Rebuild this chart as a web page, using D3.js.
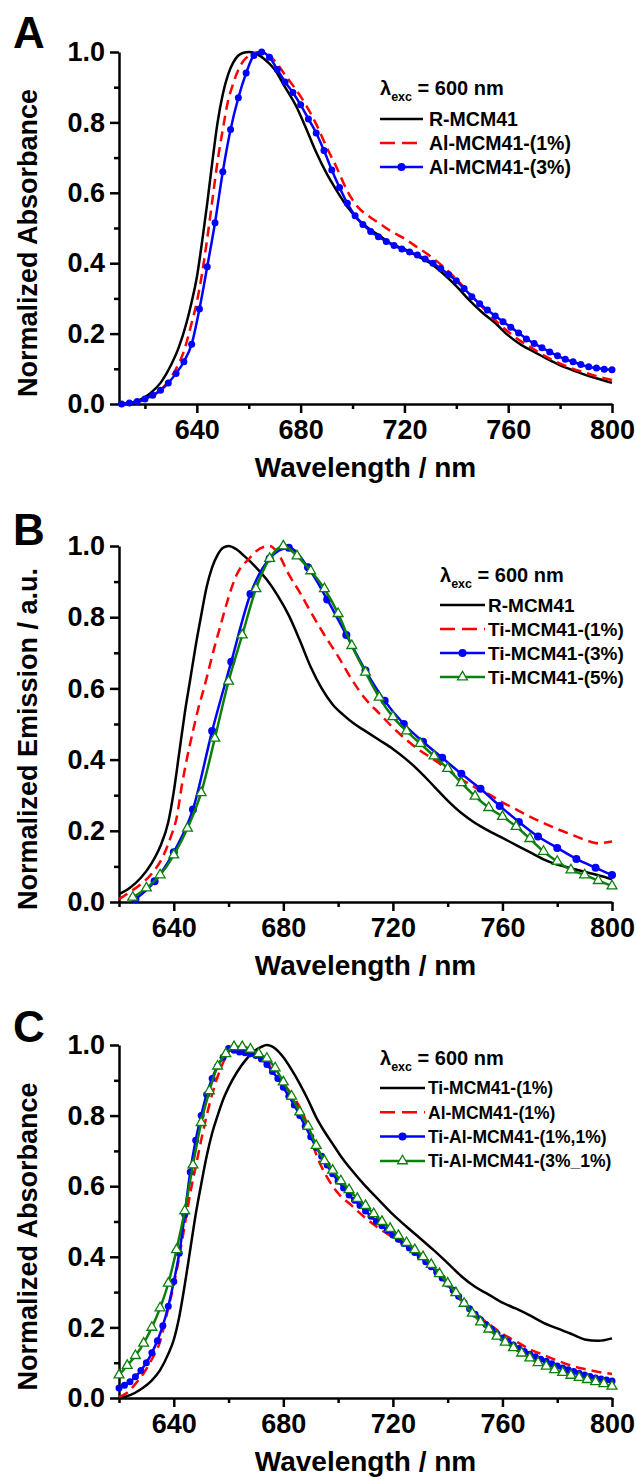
<!DOCTYPE html>
<meta charset="utf-8">
<style>
  body { margin: 0; background: #fff; }
  svg text { font-family: Arial, "Liberation Sans", sans-serif; font-weight: bold; }
</style>
<body>
<script src="https://d3js.org/d3.v7.min.js"></script>
<script>
// ---- axis ticks ----
const xMajor = [640, 680, 720, 760, 800];
const xMinor = [620, 660, 700, 740, 780];
const yMajor = [0, 0.2, 0.4, 0.6, 0.8, 1.0];
const yMinor = [0.1, 0.3, 0.5, 0.7, 0.9];

// ---- legend labels ----
const labelsA = ["R-MCM41", "Al-MCM41-(1%)", "Al-MCM41-(3%)"];
const labelsB = ["R-MCM41", "Ti-MCM41-(1%)", "Ti-MCM41-(3%)", "Ti-MCM41-(5%)"];
const labelsC = ["Ti-MCM41-(1%)", "Al-MCM41-(1%)", "Ti-Al-MCM41-(1%,1%)", "Ti-Al-MCM41-(3%_1%)"];

// ---- panel A: [wavelength nm, normalized absorbance] ----
const aR = [[610,0.0],[614,0.003],[618,0.012],[622,0.03],[626,0.06],[630,0.11],[633,0.16],[636,0.23],[638,0.29],[640,0.36],[642,0.46],[644,0.57],[646,0.69],[648,0.80],[650,0.88],[652,0.935],[654,0.97],[656,0.99],[658,0.998],[660,1.0],[663,0.995],[666,0.98],[670,0.95],[674,0.90],[678,0.85],[682,0.785],[686,0.715],[690,0.655],[694,0.605],[698,0.56],[702,0.525],[706,0.50],[710,0.48],[715,0.455],[720,0.44],[725,0.42],[730,0.40],[735,0.37],[740,0.335],[745,0.295],[750,0.26],[755,0.23],[760,0.195],[765,0.168],[770,0.148],[775,0.128],[780,0.11],[785,0.096],[790,0.082],[795,0.071],[800,0.06]];
const aAl1 = [[610,0.0],[615,0.002],[620,0.012],[624,0.028],[628,0.055],[632,0.10],[635,0.15],[638,0.23],[640,0.29],[642,0.37],[644,0.47],[646,0.58],[648,0.69],[650,0.78],[652,0.86],[654,0.91],[656,0.95],[658,0.975],[661,0.993],[664,1.0],[667,0.995],[670,0.975],[674,0.935],[678,0.895],[682,0.85],[686,0.795],[690,0.73],[694,0.67],[698,0.605],[702,0.56],[706,0.535],[710,0.515],[715,0.49],[720,0.47],[725,0.445],[730,0.42],[735,0.39],[740,0.355],[745,0.315],[750,0.275],[755,0.238],[760,0.205],[765,0.178],[770,0.155],[775,0.133],[780,0.115],[785,0.10],[790,0.088],[795,0.077],[800,0.068]];
const aAl3 = [[611,0.0],[614,0.003],[617,0.007],[620,0.014],[623,0.025],[626,0.039],[629,0.06],[632,0.087],[635,0.12],[638,0.17],[641,0.27],[644,0.39],[647,0.515],[650,0.66],[653,0.78],[656,0.87],[659,0.94],[662,0.99],[665,1.0],[668,0.985],[671,0.95],[674,0.915],[677,0.885],[680,0.85],[683,0.81],[686,0.77],[689,0.72],[692,0.665],[695,0.615],[698,0.57],[701,0.535],[704,0.51],[707,0.49],[710,0.475],[713,0.462],[716,0.45],[719,0.44],[722,0.432],[725,0.423],[728,0.412],[731,0.40],[734,0.385],[737,0.368],[740,0.35],[743,0.328],[746,0.305],[749,0.285],[752,0.267],[755,0.25],[758,0.234],[761,0.218],[764,0.202],[767,0.185],[770,0.172],[773,0.16],[776,0.148],[779,0.137],[782,0.127],[785,0.12],[788,0.112],[791,0.106],[794,0.102],[797,0.099],[800,0.097]];

// ---- panel B: [wavelength nm, normalized emission] ----
const bR = [[620,0.022],[624,0.04],[628,0.068],[632,0.11],[635,0.155],[638,0.225],[640,0.31],[642,0.42],[644,0.53],[646,0.625],[648,0.72],[650,0.805],[652,0.885],[654,0.94],[656,0.975],[658,0.995],[660,1.0],[663,0.99],[666,0.97],[670,0.94],[674,0.905],[678,0.86],[682,0.805],[686,0.735],[690,0.66],[694,0.6],[698,0.555],[702,0.525],[706,0.5],[710,0.48],[715,0.455],[720,0.43],[725,0.40],[730,0.365],[735,0.325],[740,0.285],[745,0.25],[750,0.222],[755,0.2],[760,0.18],[765,0.16],[770,0.14],[775,0.12],[780,0.105],[785,0.095],[790,0.085],[795,0.075],[800,0.064]];
const bTi1 = [[620,0.008],[624,0.028],[628,0.05],[632,0.08],[636,0.127],[639,0.185],[641,0.235],[643,0.33],[645,0.41],[647,0.48],[649,0.545],[651,0.6],[653,0.66],[655,0.72],[657,0.775],[659,0.83],[661,0.88],[663,0.92],[665,0.945],[667,0.96],[670,0.985],[673,0.998],[675,1.0],[678,0.98],[682,0.92],[686,0.87],[690,0.815],[695,0.75],[700,0.69],[705,0.625],[710,0.57],[715,0.53],[720,0.49],[725,0.455],[730,0.425],[735,0.40],[740,0.372],[745,0.345],[750,0.322],[755,0.303],[760,0.28],[765,0.26],[770,0.24],[775,0.222],[780,0.205],[785,0.19],[790,0.175],[795,0.165],[800,0.17]];
const bTi3 = [[626,0.008],[633,0.058],[640,0.14],[647,0.26],[654,0.48],[661,0.675],[668,0.865],[675,0.965],[682,0.995],[689,0.94],[696,0.85],[703,0.75],[710,0.65],[717,0.565],[724,0.50],[731,0.45],[738,0.405],[745,0.36],[752,0.318],[759,0.27],[766,0.225],[773,0.184],[780,0.152],[787,0.121],[794,0.096],[800,0.076]];
const bTi5 = [[625,0.013],[630,0.039],[635,0.076],[640,0.132],[645,0.207],[650,0.307],[655,0.46],[660,0.62],[665,0.75],[670,0.88],[675,0.965],[680,1.0],[685,0.972],[690,0.93],[695,0.88],[700,0.81],[705,0.72],[710,0.645],[715,0.575],[720,0.52],[725,0.48],[730,0.445],[735,0.41],[740,0.375],[745,0.335],[750,0.297],[755,0.265],[760,0.24],[765,0.212],[770,0.178],[775,0.142],[780,0.114],[785,0.09],[790,0.076],[795,0.06],[800,0.045]];

// ---- panel C: [wavelength nm, normalized absorbance] ----
const cTi1 = [[620,0.0],[624,0.008],[628,0.025],[632,0.05],[635,0.079],[638,0.125],[640,0.165],[642,0.23],[644,0.32],[646,0.42],[648,0.52],[650,0.605],[652,0.685],[654,0.75],[656,0.8],[658,0.845],[660,0.88],[663,0.922],[666,0.955],[669,0.98],[672,0.995],[674,1.0],[677,0.99],[680,0.965],[683,0.93],[686,0.89],[689,0.845],[692,0.795],[695,0.755],[698,0.72],[701,0.685],[705,0.645],[710,0.6],[715,0.56],[720,0.52],[725,0.485],[730,0.452],[735,0.418],[740,0.382],[745,0.345],[750,0.315],[755,0.293],[760,0.27],[765,0.253],[770,0.234],[775,0.213],[780,0.197],[785,0.182],[790,0.166],[795,0.162],[800,0.169]];
const cAl1 = [[620,0.003],[623,0.015],[626,0.04],[629,0.07],[632,0.11],[635,0.16],[638,0.255],[640,0.32],[642,0.4],[644,0.49],[646,0.58],[648,0.655],[650,0.73],[652,0.8],[654,0.86],[656,0.91],[658,0.95],[660,0.98],[662,0.997],[664,1.0],[667,0.99],[670,0.975],[673,0.96],[676,0.93],[680,0.89],[684,0.85],[688,0.79],[692,0.69],[696,0.625],[700,0.58],[705,0.545],[710,0.51],[715,0.48],[720,0.455],[725,0.43],[730,0.40],[735,0.365],[740,0.32],[745,0.275],[750,0.24],[755,0.21],[760,0.182],[765,0.16],[770,0.138],[775,0.122],[780,0.106],[785,0.092],[790,0.082],[795,0.074],[800,0.068]];
const cTiAl11 = [[620,0.028],[622,0.036],[624,0.046],[626,0.06],[628,0.078],[630,0.1],[632,0.128],[634,0.162],[636,0.205],[638,0.26],[640,0.33],[642,0.41],[644,0.52],[646,0.64],[648,0.73],[650,0.8],[652,0.86],[654,0.905],[656,0.94],[658,0.965],[660,0.99],[662,0.985],[664,0.98],[666,0.978],[668,0.975],[670,0.97],[672,0.96],[674,0.945],[676,0.925],[678,0.905],[680,0.88],[682,0.855],[684,0.83],[686,0.8],[688,0.77],[690,0.74],[692,0.71],[694,0.685],[696,0.66],[698,0.635],[700,0.615],[702,0.595],[704,0.575],[706,0.56],[708,0.545],[710,0.53],[712,0.515],[714,0.5],[716,0.488],[718,0.475],[720,0.462],[722,0.45],[724,0.438],[726,0.425],[728,0.412],[730,0.4],[732,0.386],[734,0.372],[736,0.356],[738,0.34],[740,0.323],[742,0.305],[744,0.288],[746,0.27],[748,0.253],[750,0.237],[752,0.222],[754,0.208],[756,0.195],[758,0.182],[760,0.17],[762,0.16],[764,0.15],[766,0.14],[768,0.132],[770,0.124],[772,0.117],[774,0.11],[776,0.104],[778,0.097],[780,0.091],[782,0.085],[784,0.08],[786,0.075],[788,0.07],[790,0.065],[792,0.061],[794,0.057],[796,0.054],[798,0.051],[800,0.048]];
const cTiAl31 = [[620,0.065],[623,0.092],[626,0.12],[629,0.155],[632,0.2],[635,0.255],[638,0.325],[641,0.42],[644,0.53],[647,0.66],[650,0.78],[653,0.87],[656,0.94],[659,0.975],[662,0.995],[665,0.995],[668,0.988],[671,0.975],[674,0.962],[677,0.935],[680,0.895],[683,0.855],[686,0.81],[689,0.77],[692,0.715],[695,0.672],[698,0.645],[701,0.615],[704,0.59],[707,0.565],[710,0.545],[713,0.522],[716,0.5],[719,0.48],[722,0.46],[725,0.44],[728,0.42],[731,0.4],[734,0.378],[737,0.352],[740,0.325],[743,0.298],[746,0.268],[749,0.24],[752,0.215],[755,0.195],[758,0.175],[761,0.158],[764,0.142],[767,0.127],[770,0.113],[773,0.1],[776,0.09],[779,0.08],[782,0.072],[785,0.064],[788,0.058],[791,0.052],[794,0.046],[797,0.04],[800,0.033]];

// ---- layout ----
const width = 636, height = 1477;
const xLeft = 119, xRight = 612;

const svg = d3.select("body").append("svg")
    .attr("width", width)
    .attr("height", height)
    .style("background", "#fff");

const styles = {
  black: { color: "#000000", dash: null },
  red:   { color: "#ff0000", dash: "10,6", legendDash: "15,7" },
  blue:  { color: "#0000ff", dash: null, marker: "dot" },
  green: { color: "#0a800a", dash: null, marker: "tri" }
};

const panels = [
  { letter: "A", letterY: 48, top: 52, bottom: 404, domain: [610, 800],
    yTitle: "Normalized Absorbance",
    legend: { x: 380, lambdaY: 95, rowY: 119, gap: 24, len: 43, textX: 429, font: 19.5 },
    series: [[aR, "black", labelsA[0]], [aAl1, "red", labelsA[1]], [aAl3, "blue", labelsA[2]]],
    dotR: 3.5 },
  { letter: "B", letterY: 545, top: 546, bottom: 902, domain: [620, 800],
    yTitle: "Normalized Emission / a.u.",
    legend: { x: 440, lambdaY: 582, rowY: 605, gap: 24, len: 45, textX: 488, font: 19 },
    series: [[bR, "black", labelsB[0]], [bTi1, "red", labelsB[1]], [bTi3, "blue", labelsB[2]], [bTi5, "green", labelsB[3]]],
    dotR: 4 },
  { letter: "C", letterY: 1042, top: 1045, bottom: 1398, domain: [620, 800],
    yTitle: "Normalized Absorbance",
    legend: { x: 380, lambdaY: 1065, rowY: 1088, gap: 24.3, len: 45, textX: 428, font: 17.5 },
    series: [[cTi1, "black", labelsC[0]], [cAl1, "red", labelsC[1]], [cTiAl11, "blue", labelsC[2]], [cTiAl31, "green", labelsC[3]]],
    dotR: 3.5 }
];

const tri = d3.symbol().type(d3.symbolTriangle).size(42);

function drawMarker(g, kind, cx, cy, r) {
  if (kind === "dot") {
    g.append("circle").attr("cx", cx).attr("cy", cy).attr("r", r).attr("fill", styles.blue.color);
  } else if (kind === "tri") {
    g.append("path").attr("d", tri).attr("transform", `translate(${cx},${cy})`)
      .attr("fill", "#fff").attr("stroke", styles.green.color).attr("stroke-width", 1.3);
  }
}

function styleAxis(sel, fs) {
  sel.selectAll("path, line").attr("stroke", "#000").attr("stroke-width", 2.5);
  sel.selectAll("text").attr("font-size", fs).attr("fill", "#000")
    .attr("font-family", 'Arial, "Liberation Sans", sans-serif').attr("font-weight", "bold");
}

panels.forEach(p => {
  const x = d3.scaleLinear().domain(p.domain).range([xLeft, xRight]);
  const y = d3.scaleLinear().domain([0, 1]).range([p.bottom, p.top]);
  const g = svg.append("g");

  // panel letter
  g.append("text").attr("x", 13).attr("y", p.letterY).attr("font-size", 44).text(p.letter);

  // axes: minor ticks first, then major with labels
  const xMin = g.append("g").attr("transform", `translate(0,${p.bottom})`)
    .call(d3.axisBottom(x).tickValues(xMinor).tickSize(5).tickSizeOuter(0).tickFormat(""));
  xMin.select(".domain").remove();
  styleAxis(xMin, 27);
  const xAx = g.append("g").attr("transform", `translate(0,${p.bottom})`)
    .call(d3.axisBottom(x).tickValues(xMajor).tickSize(9).tickSizeOuter(0).tickPadding(7));
  styleAxis(xAx, 27);

  const yMin = g.append("g").attr("transform", `translate(${xLeft},0)`)
    .call(d3.axisLeft(y).tickValues(yMinor).tickSize(5).tickSizeOuter(0).tickFormat(""));
  yMin.select(".domain").remove();
  styleAxis(yMin, 27);
  const yAx = g.append("g").attr("transform", `translate(${xLeft},0)`)
    .call(d3.axisLeft(y).tickValues(yMajor).tickSize(9).tickSizeOuter(0).tickPadding(5)
      .tickFormat(d3.format(".1f")));
  styleAxis(yAx, 27);

  // axis titles
  g.append("text").attr("x", (xLeft + xRight) / 2).attr("y", p.bottom + 73)
    .attr("text-anchor", "middle").attr("font-size", 28).text("Wavelength / nm");
  g.append("text")
    .attr("transform", `translate(37,${(p.top + p.bottom) / 2 + 15}) rotate(-90)`)
    .attr("text-anchor", "middle").attr("font-size", 27).text(p.yTitle);

  // curves
  const line = d3.line().x(d => x(d[0])).y(d => y(d[1])).curve(d3.curveMonotoneX);
  p.series.forEach(([data, kind]) => {
    const st = styles[kind];
    g.append("path").datum(data).attr("d", line)
      .attr("fill", "none").attr("stroke", st.color).attr("stroke-width", 2.5)
      .attr("stroke-linejoin", "round")
      .attr("stroke-dasharray", st.dash);
    if (st.marker) {
      const mg = g.append("g");
      data.forEach(d => drawMarker(mg, st.marker, x(d[0]), y(d[1]), p.dotR));
    }
  });

  // legend
  const L = p.legend;
  const lt = g.append("text").attr("x", L.x).attr("y", L.lambdaY).attr("font-size", 20);
  lt.append("tspan").text("λ");
  lt.append("tspan").attr("dy", 6).attr("font-size", 12.5).text("exc");
  lt.append("tspan").attr("dy", -6).text(" = 600 nm");

  p.series.forEach(([data, kind, label], i) => {
    const st = styles[kind];
    const cy = L.rowY + i * L.gap;
    g.append("line").attr("x1", L.x).attr("x2", L.x + L.len).attr("y1", cy).attr("y2", cy)
      .attr("stroke", st.color).attr("stroke-width", 2.5)
      .attr("stroke-dasharray", st.legendDash || null);
    if (st.marker) drawMarker(g, st.marker, L.x + L.len / 2, cy, 4);
    g.append("text").attr("x", L.textX).attr("y", cy + L.font * 0.36)
      .attr("font-size", L.font).text(label);
  });
});
</script>
</body>
